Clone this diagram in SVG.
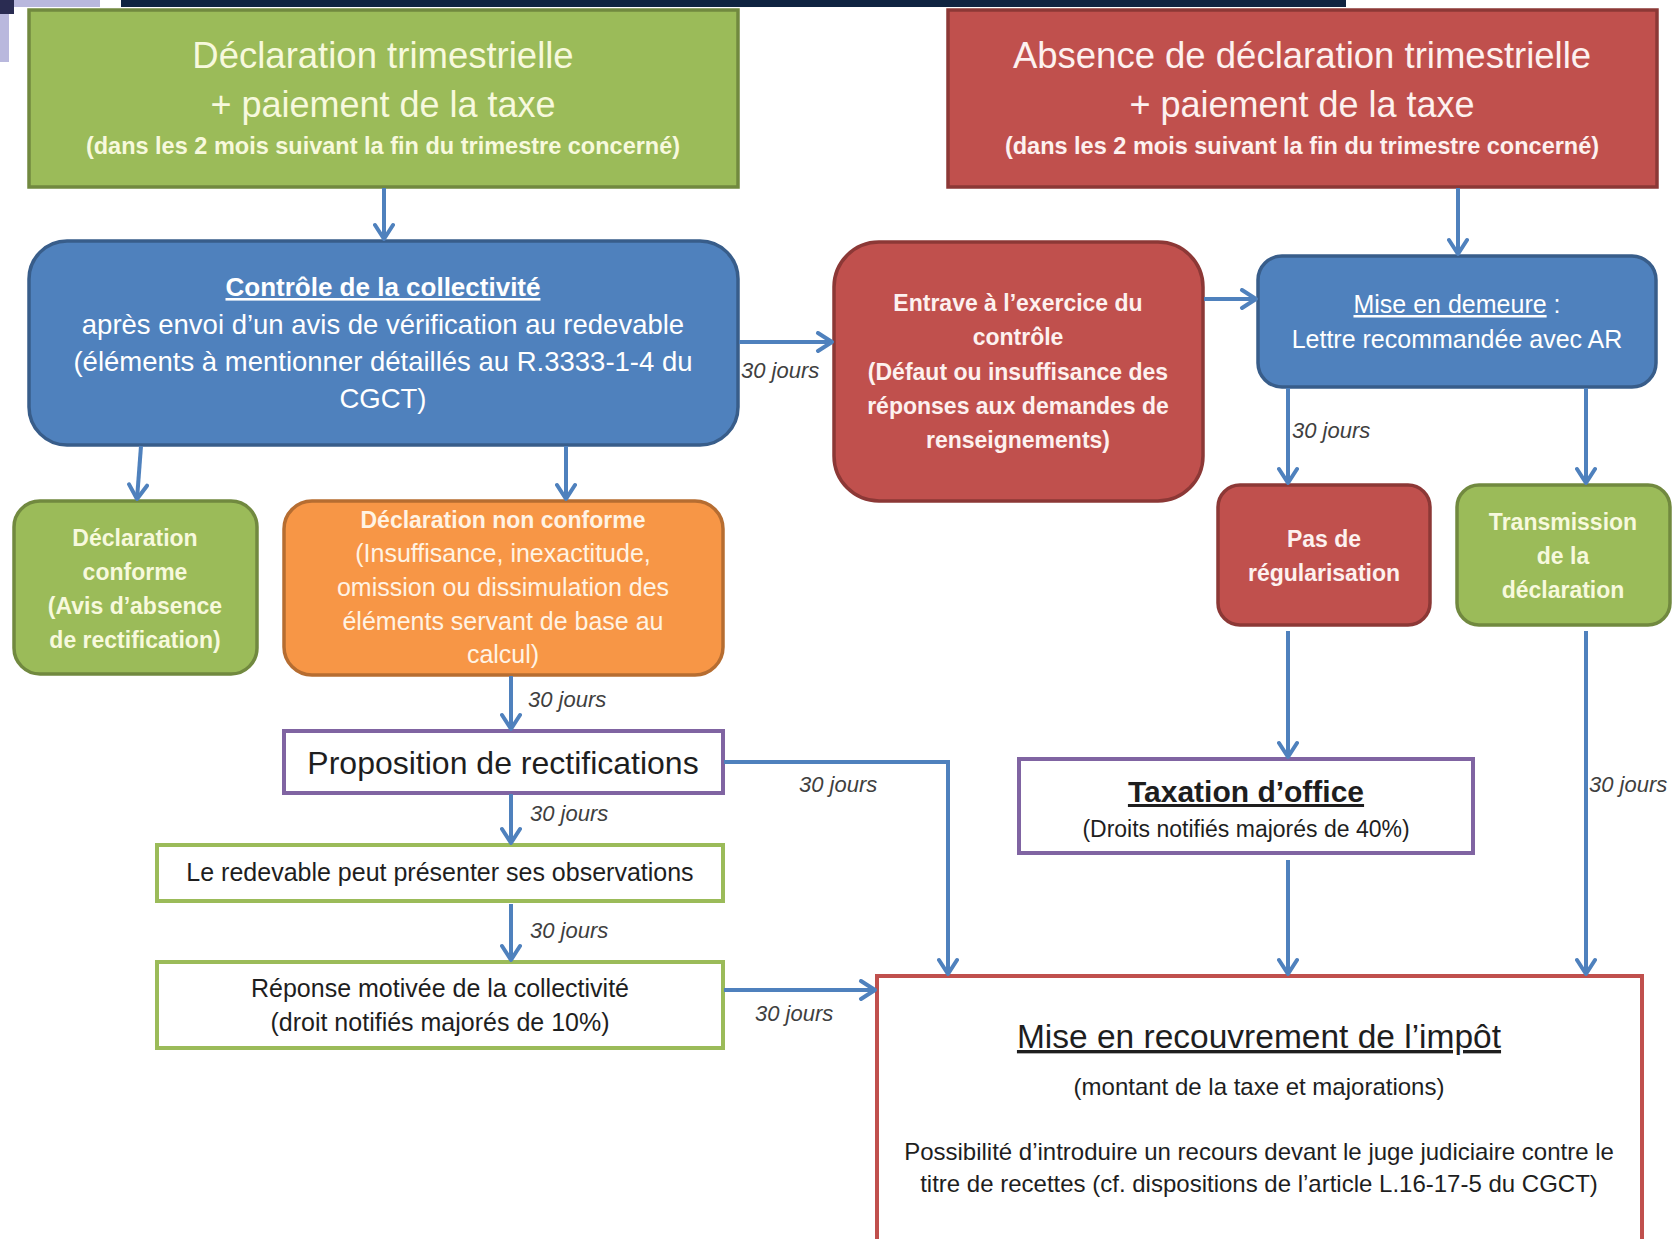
<svg xmlns="http://www.w3.org/2000/svg" width="1672" height="1239" viewBox="0 0 1672 1239">
<defs>
<marker id="ah" markerUnits="userSpaceOnUse" markerWidth="20" markerHeight="22" viewBox="0 0 20 22" refX="17" refY="11" orient="auto">
<path d="M3,2 L17,11 L3,20" fill="none" stroke="#4F81BD" stroke-width="4" stroke-linecap="round" stroke-linejoin="round"/>
</marker>
<style>
text{font-family:"Liberation Sans",Arial,sans-serif;text-anchor:middle}
.green{fill:#9BBB59;stroke:#71893F;stroke-width:3.5}
.red{fill:#C0504D;stroke:#8C3836;stroke-width:3.5}
.blue{fill:#4F81BD;stroke:#385D8A;stroke-width:3.5}
.orange{fill:#F79646;stroke:#B66D31;stroke-width:3.5}
.wpurple{fill:#FFFFFF;stroke:#8064A2;stroke-width:4}
.wgreen{fill:#FFFFFF;stroke:#9BBB59;stroke-width:4}
.wred{fill:#FFFFFF;stroke:#C0504D;stroke-width:4}
.tg{fill:#F7F9DD}
.tr{fill:#FDF1EF}
.tb{fill:#FFFFFF}
.to{fill:#FFF3E4}
.tk{fill:#1E1E1E}
.b{font-weight:bold}
.u{text-decoration:underline}
.lbl{font-style:italic;font-size:22px;fill:#3F3F3F;text-anchor:start}
.conn path,.conn line{fill:none;stroke:#4F81BD;stroke-width:4}
</style>
</defs>
<rect width="1672" height="1239" fill="#FFFFFF"/>
<g id="header-bits">
<rect x="0" y="0" width="100" height="7" fill="#B9B8DD"/>
<rect x="0" y="0" width="9" height="62" fill="#B9B8DD"/>
<rect x="0" y="0" width="14" height="14" fill="#2A2C52"/>
<rect x="121" y="0" width="1225" height="7" fill="#0F2441"/>
</g>

<g id="n-decl-trim">
<rect class="green" x="29" y="10" width="709" height="177"/>
<text class="tg" x="383" y="68" font-size="36.5">Déclaration trimestrielle</text>
<text class="tg" x="383" y="117" font-size="36">+ paiement  de la taxe</text>
<text class="tg b" x="383" y="154" font-size="23.5">(dans les 2 mois suivant la fin du trimestre concerné)</text>
</g>

<g id="n-absence">
<rect class="red" x="948" y="10" width="709" height="177"/>
<text class="tr" x="1302" y="68" font-size="36.5">Absence de déclaration trimestrielle</text>
<text class="tr" x="1302" y="117" font-size="36">+ paiement  de la taxe</text>
<text class="tr b" x="1302" y="154" font-size="23.5">(dans les 2 mois suivant la fin du trimestre concerné)</text>
</g>

<g id="n-controle">
<rect class="blue" x="29" y="241" width="709" height="204" rx="38"/>
<text class="tb b u" x="383" y="296" font-size="26">Contrôle de la collectivité</text>
<text class="tb" x="383" y="334" font-size="27.5">après envoi d’un  avis de vérification au redevable</text>
<text class="tb" x="383" y="371" font-size="27.5">(éléments à mentionner  détaillés au R.3333-1-4 du</text>
<text class="tb" x="383" y="408" font-size="27.5">CGCT)</text>
</g>

<g id="n-entrave">
<rect class="red" x="834" y="242" width="369" height="259" rx="45"/>
<text class="tr b" x="1018" y="311" font-size="23">Entrave à l’exercice du</text>
<text class="tr b" x="1018" y="345" font-size="23">contrôle</text>
<text class="tr b" x="1018" y="380" font-size="23">(Défaut ou insuffisance des</text>
<text class="tr b" x="1018" y="414" font-size="23">réponses aux demandes de</text>
<text class="tr b" x="1018" y="448" font-size="23">renseignements)</text>
</g>

<g id="n-demeure">
<rect class="blue" x="1258" y="256" width="398" height="131" rx="24"/>
<text class="tb" x="1457" y="313" font-size="25"><tspan class="u">Mise en demeure</tspan> :</text>
<text class="tb" x="1457" y="348" font-size="25">Lettre recommandée avec AR</text>
</g>

<g id="n-conforme">
<rect class="green" x="14" y="501" width="243" height="173" rx="26"/>
<text class="tg b" x="135" y="546" font-size="23">Déclaration</text>
<text class="tg b" x="135" y="580" font-size="23">conforme</text>
<text class="tg b" x="135" y="614" font-size="23">(Avis d’absence</text>
<text class="tg b" x="135" y="648" font-size="23">de rectification)</text>
</g>

<g id="n-nonconforme">
<rect class="orange" x="284" y="501" width="439" height="174" rx="28"/>
<text class="to b" x="503" y="528" font-size="23">Déclaration non conforme</text>
<text class="to" x="503" y="562" font-size="25">(Insuffisance, inexactitude,</text>
<text class="to" x="503" y="596" font-size="25">omission ou dissimulation des</text>
<text class="to" x="503" y="630" font-size="25">éléments servant de base au</text>
<text class="to" x="503" y="663" font-size="25">calcul)</text>
</g>

<g id="n-pasregul">
<rect class="red" x="1218" y="485" width="212" height="140" rx="22"/>
<text class="tr b" x="1324" y="547" font-size="23">Pas de</text>
<text class="tr b" x="1324" y="581" font-size="23">régularisation</text>
</g>

<g id="n-transmission">
<rect class="green" x="1457" y="485" width="213" height="140" rx="22"/>
<text class="tg b" x="1563" y="530" font-size="23">Transmission</text>
<text class="tg b" x="1563" y="564" font-size="23">de la</text>
<text class="tg b" x="1563" y="598" font-size="23">déclaration</text>
</g>

<g id="n-proposition">
<rect class="wpurple" x="284" y="731" width="439" height="62"/>
<text class="tk" x="503" y="774" font-size="32">Proposition de rectifications</text>
</g>

<g id="n-observations">
<rect class="wgreen" x="157" y="845" width="566" height="56"/>
<text class="tk" x="440" y="881" font-size="25" fill="#262626">Le redevable peut présenter ses observations</text>
</g>

<g id="n-reponse">
<rect class="wgreen" x="157" y="962" width="566" height="86"/>
<text class="tk" x="440" y="997" font-size="25">Réponse motivée de la collectivité</text>
<text class="tk" x="440" y="1031" font-size="25">(droit notifiés majorés de 10%)</text>
</g>

<g id="n-taxation">
<rect class="wpurple" x="1019" y="759" width="454" height="94"/>
<text class="tk b u" x="1246" y="802" font-size="30">Taxation d’office</text>
<text class="tk" x="1246" y="837" font-size="23">(Droits notifiés majorés de 40%)</text>
</g>

<g id="n-recouvrement">
<rect class="wred" x="877" y="976" width="765" height="280"/>
<text class="tk u" x="1259" y="1048" font-size="33.5">Mise en recouvrement de l’impôt</text>
<text class="tk" x="1259" y="1095" font-size="24">(montant de la taxe et majorations)</text>
<text class="tk" x="1259" y="1160" font-size="24">Possibilité d’introduire un recours devant le juge judiciaire contre le</text>
<text class="tk" x="1259" y="1192" font-size="24">titre de recettes (cf. dispositions  de l’article L.16-17-5 du CGCT)</text>
</g>

<g id="connectors" class="conn">
<line x1="384" y1="188" x2="384" y2="239" marker-end="url(#ah)"/>
<line x1="1458" y1="188" x2="1458" y2="254" marker-end="url(#ah)"/>
<line x1="739" y1="342" x2="832" y2="342" marker-end="url(#ah)"/>
<line x1="1204" y1="299" x2="1256" y2="299" marker-end="url(#ah)"/>
<line x1="141" y1="446" x2="137" y2="499" marker-end="url(#ah)"/>
<line x1="566" y1="446" x2="566" y2="499" marker-end="url(#ah)"/>
<line x1="1288" y1="388" x2="1288" y2="483" marker-end="url(#ah)"/>
<line x1="1586" y1="388" x2="1586" y2="483" marker-end="url(#ah)"/>
<line x1="511" y1="676" x2="511" y2="729" marker-end="url(#ah)"/>
<line x1="511" y1="794" x2="511" y2="843" marker-end="url(#ah)"/>
<line x1="511" y1="904" x2="511" y2="960" marker-end="url(#ah)"/>
<path d="M724,762 H948 V974" marker-end="url(#ah)"/>
<line x1="724" y1="990" x2="875" y2="990" marker-end="url(#ah)"/>
<line x1="1288" y1="631" x2="1288" y2="757" marker-end="url(#ah)"/>
<line x1="1288" y1="860" x2="1288" y2="974" marker-end="url(#ah)"/>
<line x1="1586" y1="631" x2="1586" y2="974" marker-end="url(#ah)"/>
<text class="lbl" x="741" y="378">30 jours</text>
<text class="lbl" x="1292" y="438">30 jours</text>
<text class="lbl" x="528" y="707">30 jours</text>
<text class="lbl" x="530" y="821">30 jours</text>
<text class="lbl" x="530" y="938">30 jours</text>
<text class="lbl" x="799" y="792">30 jours</text>
<text class="lbl" x="755" y="1021">30 jours</text>
<text class="lbl" x="1589" y="792">30 jours</text>
</g>
</svg>
